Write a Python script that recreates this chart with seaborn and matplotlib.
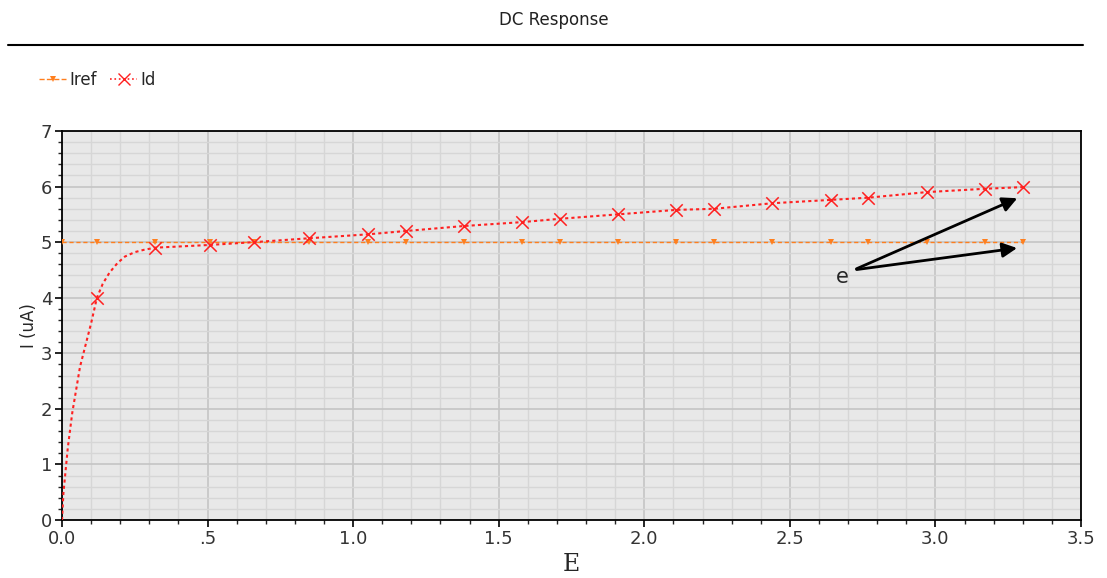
import numpy as np
import pandas as pd
import seaborn as sns
import matplotlib.pyplot as plt
from matplotlib.lines import Line2D
from matplotlib.ticker import MultipleLocator, FuncFormatter

# Id curve (dense trace) and the marked samples
id_curve_e = [0.0, 0.005, 0.02, 0.035, 0.062, 0.10, 0.12, 0.14, 0.163, 0.19,
              0.216, 0.25, 0.28, 0.32]
id_curve_i = [0.0, 0.49, 1.3, 1.92, 2.76, 3.54, 4.0, 4.25, 4.45, 4.62,
              4.74, 4.82, 4.86, 4.9]
mark_e = [0.0, 0.12, 0.32, 0.51, 0.66, 0.85, 1.05, 1.18, 1.38, 1.58, 1.71,
          1.91, 2.11, 2.24, 2.44, 2.64, 2.77, 2.97, 3.17, 3.30]
id_mark_i = [0.0, 4.0, 4.9, 4.95, 5.0, 5.07, 5.14, 5.2, 5.29, 5.36, 5.42,
             5.5, 5.58, 5.6, 5.7, 5.76, 5.8, 5.9, 5.96, 5.99]
iref_i = [5.0] * len(mark_e)

id_line = pd.DataFrame({"E": id_curve_e + mark_e[3:], "I": id_curve_i + id_mark_i[3:]})
iref_df = pd.DataFrame({"E": mark_e, "I": iref_i})
id_df = pd.DataFrame({"E": mark_e[1:], "I": id_mark_i[1:]})

sns.set_style("white")
plt.rcParams['font.family'] = ['DejaVu Sans']

fig = plt.figure(figsize=(11.07, 5.78), dpi=100)
ax = fig.add_axes([0.056, 0.1003, 0.9205, 0.6731])
ax.set_facecolor("#e8e8e8")

orange = "#ff7f1e"
red = "#ff2020"

sns.lineplot(data=iref_df, x="E", y="I", ax=ax, color=orange, lw=1.0,
             dashes=False, marker="v", markersize=4, markeredgewidth=0,
             sort=False, zorder=3)
ax.lines[-1].set_dashes([3, 2])
sns.lineplot(data=id_line, x="E", y="I", ax=ax, color=red, lw=1.5,
             sort=False, zorder=4)
ax.lines[-1].set_dashes([1.5, 1.5])
sns.scatterplot(data=id_df, x="E", y="I", ax=ax, color=red, marker="x",
                s=80, linewidth=1.1, zorder=5)

ax.set_xlim(0, 3.5)
ax.set_ylim(0, 7)
ax.xaxis.set_major_locator(MultipleLocator(0.5))
ax.xaxis.set_minor_locator(MultipleLocator(0.1))
ax.yaxis.set_major_locator(MultipleLocator(1))
ax.yaxis.set_minor_locator(MultipleLocator(0.2))

def xfmt(v, pos):
    s = "%.1f" % v
    return s[1:] if s == "0.5" else s
ax.xaxis.set_major_formatter(FuncFormatter(xfmt))

ax.grid(which="major", color="#c4c4c4", lw=1.2)
ax.grid(which="minor", color="#d6d6d6", lw=1.0)
ax.set_axisbelow(True)
ax.tick_params(which="major", length=5, width=1.2, labelsize=13, colors="black",
               labelcolor="#333333", direction="out", pad=2)
ax.tick_params(which="minor", length=3, width=1.0, direction="out")
ax.tick_params(axis="x", which="both", bottom=True)
ax.tick_params(axis="y", which="both", left=True)
for sp in ax.spines.values():
    sp.set_color("black")
    sp.set_linewidth(1.3)

ax.set_xlabel("E", fontsize=17, family="DejaVu Serif", labelpad=4)
ax.set_ylabel("I (uA)", fontsize=12, labelpad=2)

# annotation
ax.annotate("", xy=(3.29, 5.81), xytext=(2.72, 4.5),
            arrowprops=dict(arrowstyle="-|>", color="black", lw=2,
                            mutation_scale=22))
ax.annotate("", xy=(3.29, 4.9), xytext=(2.72, 4.5),
            arrowprops=dict(arrowstyle="-|>", color="black", lw=2,
                            mutation_scale=22))
ax.text(2.68, 4.38, "e", fontsize=15, ha="center", va="center")

fig.text(0.5, 0.965, "DC Response", ha="center", va="center", fontsize=12,
         color="#222222")
fig.add_artist(Line2D([0.007, 0.978], [0.922, 0.922], color="black", lw=1.5,
                      transform=fig.transFigure))

handles = [Line2D([], [], color=orange, lw=1.0, ls="--", marker="v",
                  markersize=4, markeredgewidth=0),
           Line2D([], [], color=red, lw=1.2, ls=":", marker="x",
                  markersize=8)]
fig.legend(handles, ["Iref", "Id"], loc="center left",
           bbox_to_anchor=(0.022, 0.862), ncol=2, frameon=False,
           fontsize=12, handlelength=1.6, handletextpad=0.2,
           columnspacing=0.8)

fig.savefig("out.png", dpi=100)
